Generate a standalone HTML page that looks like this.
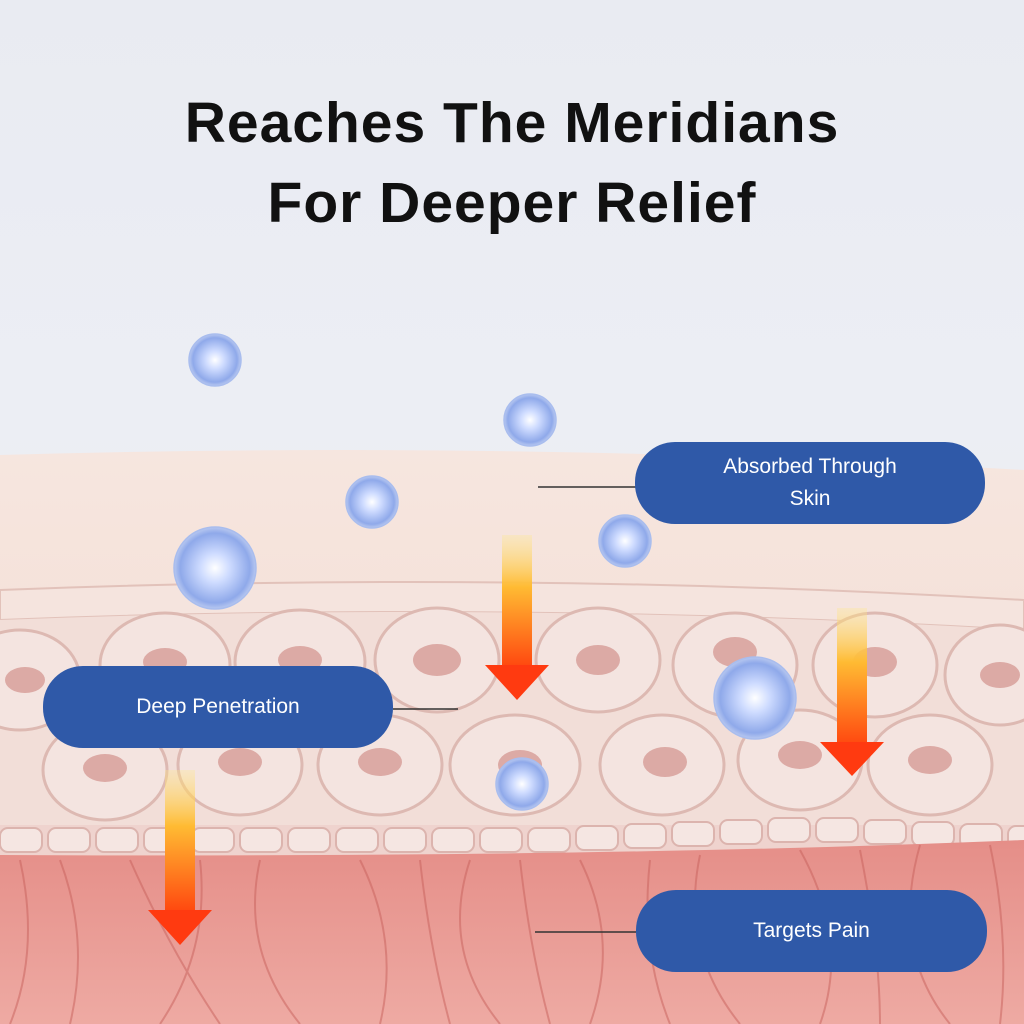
<!DOCTYPE html>
<html><head><style>
html,body{margin:0;padding:0;width:1024px;height:1024px;overflow:hidden;font-family:"Liberation Sans",sans-serif}
.t{position:absolute;left:0;width:1024px;text-align:center;font-weight:bold;font-size:57px;color:#111;letter-spacing:1px}
.pill{position:absolute;background:#2f59a8;color:#fff;border-radius:40px;display:flex;align-items:center;justify-content:center;text-align:center;font-size:21px;line-height:32px}
</style></head><body>
<svg width="1024" height="1024" style="position:absolute;left:0;top:0">
<defs>
<linearGradient id="bg" x1="0" y1="0" x2="0" y2="1">
<stop offset="0" stop-color="#e9ebf2"/><stop offset="0.4" stop-color="#eceef4"/><stop offset="1" stop-color="#efe9ea"/></linearGradient>
<linearGradient id="sk" x1="0" y1="0" x2="0" y2="1">
<stop offset="0" stop-color="#f6e6df"/><stop offset="1" stop-color="#f3d8cd"/></linearGradient>
<linearGradient id="mu" x1="0" y1="0" x2="0" y2="1">
<stop offset="0" stop-color="#e58e88"/><stop offset="1" stop-color="#eeaaa3"/></linearGradient>
<linearGradient id="ar" x1="0" y1="0" x2="0" y2="1">
<stop offset="0" stop-color="#ffe88a" stop-opacity="0.3"/><stop offset="0.4" stop-color="#ffbb33"/><stop offset="1" stop-color="#ff4a10"/></linearGradient>
<radialGradient id="bb" cx="0.5" cy="0.5" r="0.5">
<stop offset="0" stop-color="#ffffff"/><stop offset="0.35" stop-color="#cfdcff"/><stop offset="0.85" stop-color="#8fa9ea"/><stop offset="1" stop-color="#b8c8f0"/></radialGradient>
</defs>
<rect width="1024" height="1024" fill="url(#bg)"/>
<path d="M0 455 Q512 440 1024 470 L1024 1024 L0 1024Z" fill="url(#sk)"/>
<path d="M0 590 Q512 570 1024 600 L1024 630 Q512 600 0 620Z" fill="#f5e4de" stroke="#e2c2ba" stroke-width="2"/>
<path d="M0 620 Q512 600 1024 630 L1024 840 L0 840Z" fill="#f2ded8"/>
<g fill="#f4e4e0" stroke="#ddb9b2" stroke-width="3">
<ellipse cx="20" cy="680" rx="60" ry="50"/><ellipse cx="165" cy="665" rx="65" ry="52"/><ellipse cx="300" cy="662" rx="65" ry="52"/>
<ellipse cx="437" cy="660" rx="62" ry="52"/><ellipse cx="598" cy="660" rx="62" ry="52"/><ellipse cx="735" cy="665" rx="62" ry="52"/><ellipse cx="875" cy="665" rx="62" ry="52"/><ellipse cx="1000" cy="675" rx="55" ry="50"/>
<ellipse cx="105" cy="770" rx="62" ry="50"/><ellipse cx="240" cy="765" rx="62" ry="50"/><ellipse cx="380" cy="765" rx="62" ry="50"/><ellipse cx="515" cy="765" rx="65" ry="50"/><ellipse cx="662" cy="765" rx="62" ry="50"/><ellipse cx="800" cy="760" rx="62" ry="50"/><ellipse cx="930" cy="765" rx="62" ry="50"/>
</g>
<g fill="#dcaaa5">
<ellipse cx="25" cy="680" rx="20" ry="13"/><ellipse cx="165" cy="662" rx="22" ry="14"/><ellipse cx="300" cy="660" rx="22" ry="14"/><ellipse cx="437" cy="660" rx="24" ry="16"/><ellipse cx="598" cy="660" rx="22" ry="15"/><ellipse cx="735" cy="652" rx="22" ry="15"/><ellipse cx="875" cy="662" rx="22" ry="15"/><ellipse cx="1000" cy="675" rx="20" ry="13"/>
<ellipse cx="105" cy="768" rx="22" ry="14"/><ellipse cx="240" cy="762" rx="22" ry="14"/><ellipse cx="380" cy="762" rx="22" ry="14"/><ellipse cx="520" cy="765" rx="22" ry="15"/><ellipse cx="665" cy="762" rx="22" ry="15"/><ellipse cx="800" cy="755" rx="22" ry="14"/><ellipse cx="930" cy="760" rx="22" ry="14"/>
</g>
<rect x="-10" y="825" width="1040" height="30" fill="#efd3ce"/>
<g fill="#f5e6e2" stroke="#dcb4ae" stroke-width="2">
<rect x="0" y="828" width="42" height="24" rx="8"/><rect x="48" y="828" width="42" height="24" rx="8"/><rect x="96" y="828" width="42" height="24" rx="8"/><rect x="144" y="828" width="42" height="24" rx="8"/><rect x="192" y="828" width="42" height="24" rx="8"/><rect x="240" y="828" width="42" height="24" rx="8"/><rect x="288" y="828" width="42" height="24" rx="8"/><rect x="336" y="828" width="42" height="24" rx="8"/><rect x="384" y="828" width="42" height="24" rx="8"/><rect x="432" y="828" width="42" height="24" rx="8"/><rect x="480" y="828" width="42" height="24" rx="8"/><rect x="528" y="828" width="42" height="24" rx="8"/><rect x="576" y="826" width="42" height="24" rx="8"/><rect x="624" y="824" width="42" height="24" rx="8"/><rect x="672" y="822" width="42" height="24" rx="8"/><rect x="720" y="820" width="42" height="24" rx="8"/><rect x="768" y="818" width="42" height="24" rx="8"/><rect x="816" y="818" width="42" height="24" rx="8"/><rect x="864" y="820" width="42" height="24" rx="8"/><rect x="912" y="822" width="42" height="24" rx="8"/><rect x="960" y="824" width="42" height="24" rx="8"/><rect x="1008" y="826" width="42" height="24" rx="8"/>
</g>
<path d="M0 855 Q600 858 1024 840 L1024 1024 L0 1024Z" fill="url(#mu)"/>
<g stroke="#c8615c" stroke-width="2" fill="none" opacity="0.5">
<path d="M60 860 Q90 940 70 1024"/><path d="M130 860 Q170 950 220 1024"/><path d="M260 860 Q240 950 300 1024"/><path d="M360 860 Q400 940 380 1024"/><path d="M470 860 Q440 950 500 1024"/><path d="M580 860 Q620 940 590 1024"/><path d="M700 855 Q680 950 740 1024"/><path d="M800 850 Q850 940 820 1024"/><path d="M920 845 Q890 950 950 1024"/><path d="M990 845 Q1010 940 1000 1024"/>
<path d="M20 860 Q40 950 10 1024"/><path d="M200 860 Q210 950 160 1024"/><path d="M420 860 Q430 950 450 1024"/><path d="M520 860 Q530 950 550 1024"/><path d="M650 860 Q640 950 670 1024"/><path d="M860 850 Q880 950 880 1024"/>
</g>
<g fill="url(#ar)">
<rect x="502" y="535" width="30" height="130"/><path d="M485 665 L549 665 L517 700Z" fill="#ff3a10"/>
<rect x="837" y="608" width="30" height="135"/><path d="M820 742 L884 742 L852 776Z" fill="#ff3a10"/>
<rect x="165" y="770" width="30" height="140"/><path d="M148 910 L212 910 L180 945Z" fill="#ff3a10"/>
</g>
<g stroke="#333" stroke-width="1.5">
<line x1="538" y1="487" x2="636" y2="487"/><line x1="393" y1="709" x2="458" y2="709"/><line x1="535" y1="932" x2="636" y2="932"/>
</g>
<g fill="url(#bb)" stroke="#a9bdee" stroke-width="1.5">
<circle cx="215" cy="360" r="26"/><circle cx="530" cy="420" r="26"/><circle cx="372" cy="502" r="26"/><circle cx="625" cy="541" r="26"/><circle cx="215" cy="568" r="41"/><circle cx="755" cy="698" r="41"/><circle cx="522" cy="784" r="26"/>
</g>
</svg>
<div class="t" style="top:90px">Reaches The Meridians</div>
<div class="t" style="top:170px">For Deeper Relief</div>
<div class="pill" style="left:635px;top:442px;width:350px;height:82px">Absorbed Through<br>Skin</div>
<div class="pill" style="left:43px;top:666px;width:350px;height:82px">Deep Penetration</div>
<div class="pill" style="left:636px;top:890px;width:351px;height:82px">Targets Pain</div>
</body></html>
